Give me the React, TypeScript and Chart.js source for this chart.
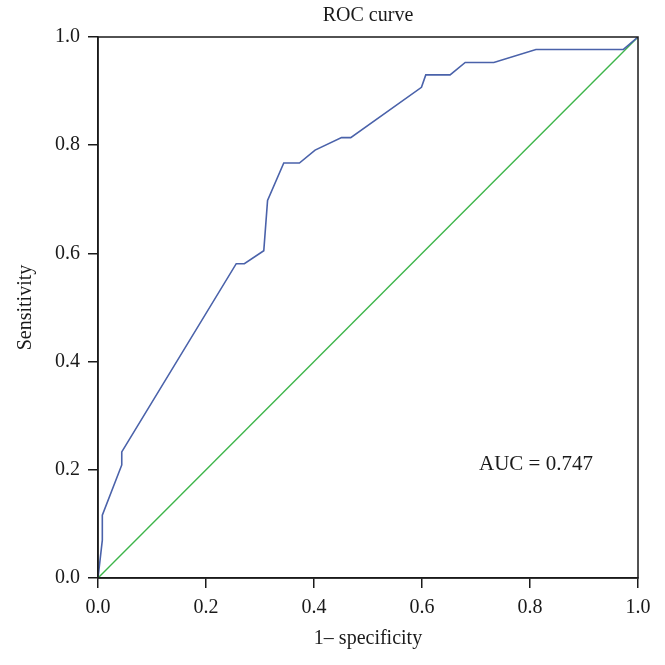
import { useEffect, useRef } from 'react';
import { Chart, registerables } from 'chart.js';

Chart.register(...registerables);

const rocFpr = [0, 0.008, 0.008, 0.044, 0.044, 0.256, 0.271, 0.307, 0.314, 0.344, 0.373, 0.402, 0.451, 0.468, 0.599, 0.607, 0.652, 0.68, 0.733, 0.811, 0.973, 1];
const rocTpr = [0, 0.07, 0.116, 0.209, 0.233, 0.581, 0.581, 0.605, 0.698, 0.767, 0.767, 0.791, 0.814, 0.814, 0.907, 0.93, 0.93, 0.953, 0.953, 0.977, 0.977, 1];
const refFpr = [0, 1];
const refTpr = [0, 1];
const chartTitle = 'ROC curve';
const xTitle = '1\u2013 specificity';
const yTitle = 'Sensitivity';
const aucLabel = 'AUC = 0.747';
const aucPos = { x: 0.811, y: 0.209 };

const FONT = "'Liberation Serif', 'DejaVu Serif', serif";
const INK = '#1a1a1a';

export default function App() {
  const ref = useRef<HTMLCanvasElement | null>(null);
  useEffect(() => {
    document.body.style.margin = '0';
    const canvas = ref.current!;
    const frame = {
      id: 'frame',
      afterDraw(chart: any) {
        const { ctx, chartArea: a, scales } = chart;
        ctx.save();
        ctx.strokeStyle = INK;
        ctx.lineWidth = 1.5;
        ctx.strokeRect(a.left, a.top, a.right - a.left, a.bottom - a.top);
        ctx.fillStyle = INK;
        ctx.textAlign = 'center';
        ctx.textBaseline = 'middle';
        ctx.font = `20px ${FONT}`;
        ctx.fillText(chartTitle, (a.left + a.right) / 2, 16);
        ctx.fillText(xTitle, (a.left + a.right) / 2, 639);
        ctx.font = `21px ${FONT}`;
        ctx.fillText(aucLabel, scales.x.getPixelForValue(aucPos.x), scales.y.getPixelForValue(aucPos.y));
        ctx.font = `20px ${FONT}`;
        ctx.save();
        ctx.translate(26, (a.top + a.bottom) / 2);
        ctx.rotate(-Math.PI / 2);
        ctx.fillText(yTitle, 0, 0);
        ctx.restore();
        ctx.restore();
      },
    };
    const chart = new Chart(canvas, {
      type: 'scatter',
      data: {
        datasets: [
          {
            data: rocFpr.map((x, i) => ({ x, y: rocTpr[i] })),
            showLine: true,
            borderColor: '#4a62aa',
            borderWidth: 1.6,
            pointRadius: 0,
            tension: 0,
          },
          {
            data: refFpr.map((x, i) => ({ x, y: refTpr[i] })),
            showLine: true,
            borderColor: '#3db54a',
            borderWidth: 1.4,
            pointRadius: 0,
          },
        ],
      },
      plugins: [frame],
      options: {
        animation: false,
        responsive: false,
        layout: { padding: { top: 37, right: 27, left: 0, bottom: 0 } },
        plugins: { legend: { display: false }, tooltip: { enabled: false } },
        scales: {
          x: {
            type: 'linear',
            min: 0,
            max: 1,
            afterFit: (s: any) => { s.height = 87; },
            ticks: {
              stepSize: 0.2,
              callback: (v: any) => Number(v).toFixed(1),
              color: INK,
              font: { family: FONT, size: 20 },
              padding: 8,
              maxRotation: 0,
            },
            grid: { drawOnChartArea: false, drawTicks: true, tickLength: 10, color: INK, lineWidth: 1.5 },
            border: { display: true, color: INK, width: 1.5 },
          },
          y: {
            type: 'linear',
            min: 0,
            max: 1,
            afterFit: (s: any) => { s.width = 98; },
            ticks: {
              stepSize: 0.2,
              callback: (v: any) => Number(v).toFixed(1),
              color: INK,
              font: { family: FONT, size: 20 },
              padding: 8,
            },
            grid: { drawOnChartArea: false, drawTicks: true, tickLength: 10, color: INK, lineWidth: 1.5 },
            border: { display: true, color: INK, width: 1.5 },
          },
        },
      },
    });
    return () => chart.destroy();
  }, []);
  return <canvas ref={ref} width={665} height={665} style={{ display: 'block' }} />;
}
